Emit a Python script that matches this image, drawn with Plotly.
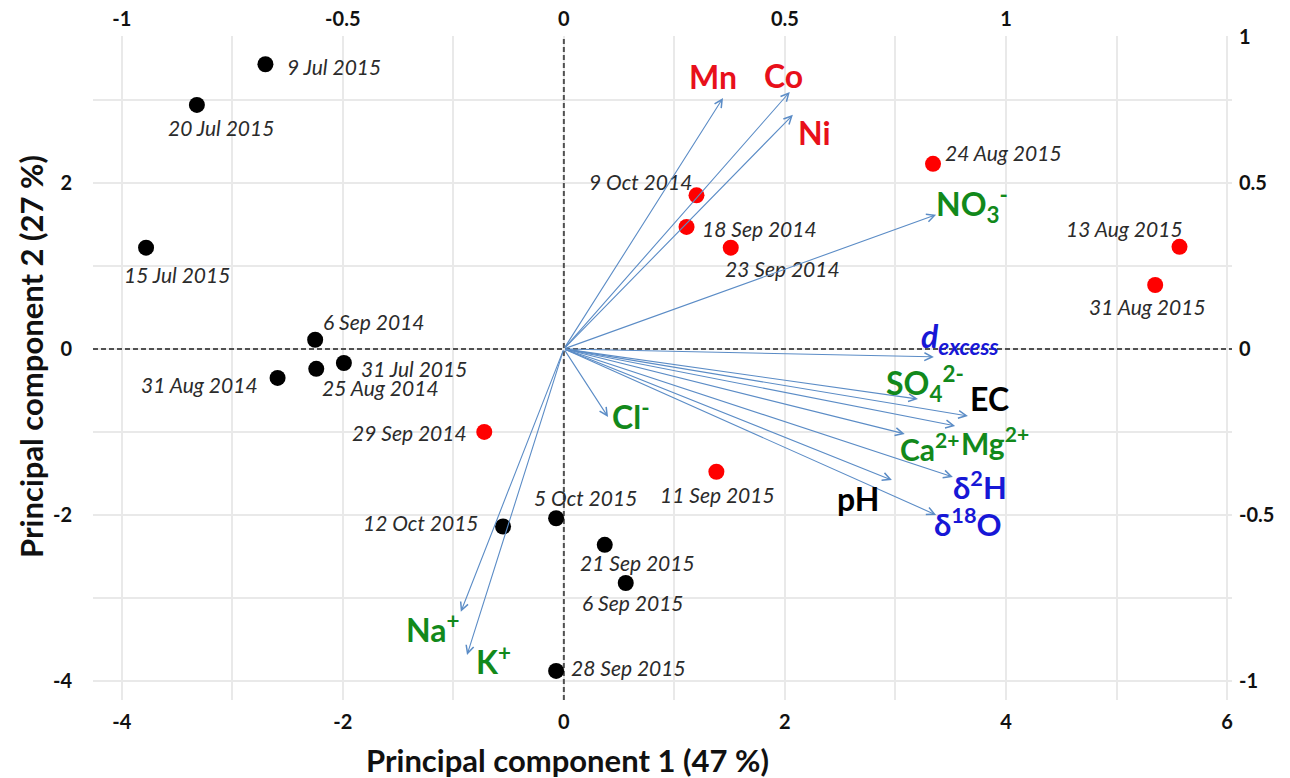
import plotly.graph_objects as go

# ---------------- data ----------------
sample_dates = ["9 Jul 2015", "20 Jul 2015", "15 Jul 2015", "6 Sep 2014", "31 Jul 2015",
                "25 Aug 2014", "31 Aug 2014", "29 Sep 2014", "12 Oct 2015", "5 Oct 2015",
                "21 Sep 2015", "6 Sep 2015", "28 Sep 2015", "24 Aug 2015", "9 Oct 2014",
                "18 Sep 2014", "23 Sep 2014", "13 Aug 2015", "31 Aug 2015", "11 Sep 2015"]
pc1_scores = [-2.70, -3.32, -3.78, -2.25, -1.99, -2.24, -2.59, -0.72, -0.55, -0.07,
              0.37, 0.56, -0.07, 3.34, 1.20, 1.11, 1.51, 5.57, 5.35, 1.38]
pc2_scores = [3.43, 2.94, 1.22, 0.11, -0.17, -0.24, -0.35, -1.00, -2.14, -2.04,
              -2.36, -2.82, -3.88, 2.23, 1.85, 1.47, 1.22, 1.23, 0.77, -1.48]
sample_group = ["black", "black", "black", "black", "black", "black", "black", "red",
                "black", "black", "black", "black", "black", "red", "red", "red", "red",
                "red", "red", "red"]

variables = ["Mn", "Co", "Ni", "NO3", "dexcess", "SO4", "EC", "Mg", "Ca", "d2H",
             "pH", "d18O", "Cl", "Na", "K"]
var_labels = ["Mn", "Co", "Ni", "NO<sub>3</sub><sup>-</sup>", "<i>d</i><sub><i>excess</i></sub>",
              "SO<sub>4</sub><sup>2-</sup>", "EC", "Mg<sup>2+</sup>", "Ca<sup>2+</sup>",
              "δ<sup>2</sup>H", "pH", "δ<sup>18</sup>O", "Cl<sup>-</sup>", "Na<sup>+</sup>",
              "K<sup>+</sup>"]
load_pc1 = [0.360, 0.511, 0.518, 0.842, 0.837, 0.801, 0.914, 0.885, 0.771, 0.880,
            0.742, 0.842, 0.100, -0.233, -0.219]
load_pc2 = [0.756, 0.774, 0.705, 0.404, -0.024, -0.151, -0.202, -0.232, -0.256, -0.386,
            -0.395, -0.500, -0.205, -0.792, -0.922]
var_class = ["metal", "metal", "metal", "ion", "iso", "ion", "phys", "ion", "ion", "iso",
             "phys", "iso", "ion", "ion", "ion"]

bottom_ticks = [-4, -2, 0, 2, 4, 6]
bottom_text = ["-4", "-2", "0", "2", "4", "6"]
left_ticks = [-4, -2, 0, 2]
left_text = ["-4", "-2", "0", "2"]
top_ticks = [-1, -0.5, 0, 0.5, 1]
top_text = ["-1", "-0.5", "0", "0.5", "1"]
right_tickvals = [-1, -0.5, 0, 0.5, 0.94]
right_ticktext = ["-1", "-0.5", "0", "0.5", "1"]

# ---------------- layout config (label placement, px) ----------------
date_anchor = ["left", "center", "center", "left", "left", "left", "right", "right",
               "right", "center", "left", "left", "left", "left", "right", "left",
               "left", "right", "center", "center"]
date_dx = [20, 24, 31, 6, 15, 4, -18, -15, -22, 29, -27, -46, 13, 10, -2, 13, -8, 5, -8, 1]
date_dy = [-2, -23, -27, 18, -5, -19, -7, -1, 4, 21, -18, -20, 3, 11, 14, -2, -21, 18, -21, -23]

var_dx = [-10, -6, 22, 36, 26, 7, 22, 40, 25, 27, -34, 32, 22, -28, 26]
var_dy = [21, 16, -18, 10, 19, 16, 17, -15, -13, -8, -18, -8, 2, -16, -5]
var_size = [32, 32, 32, 32, 32, 32, 32, 30, 30, 31, 32, 31, 32, 32, 32]

FONT = "Lato"
class_color = {"metal": "#e8101a", "ion": "#12891b", "iso": "#1717d6", "phys": "#000000"}
marker_color = {"black": "#000000", "red": "#ff0000"}
ARROW = "#5b8cc6"

xr = [-4.26, 6.045]
yr = [-4.23, 3.77]


def bold(labels):
    return ["<b>%s</b>" % t for t in labels]


fig = go.Figure()

# dashed zero reference lines
zero_line = dict(color="#505050", width=2, dash="5px,3px")
fig.add_trace(go.Scatter(x=[0, 0], y=yr, mode="lines", hoverinfo="skip", showlegend=False,
                         line=zero_line))
fig.add_trace(go.Scatter(x=xr, y=[0, 0], mode="lines", hoverinfo="skip", showlegend=False,
                         line=zero_line))

for grp in ["black", "red"]:
    idx = [i for i, g in enumerate(sample_group) if g == grp]
    fig.add_trace(go.Scatter(
        x=[pc1_scores[i] for i in idx], y=[pc2_scores[i] for i in idx],
        mode="markers", marker=dict(size=16, color=marker_color[grp], line=dict(width=0)),
        hoverinfo="skip", showlegend=False, xaxis="x", yaxis="y"))

# invisible trace binding secondary (loading) axes
fig.add_trace(go.Scatter(x=load_pc1, y=load_pc2, mode="markers",
                         marker=dict(size=1, opacity=0), hoverinfo="skip",
                         showlegend=False, xaxis="x2", yaxis="y2"))

annotations = []
for i, d in enumerate(sample_dates):
    annotations.append(dict(
        x=pc1_scores[i], y=pc2_scores[i], xref="x", yref="y", text=d, showarrow=False,
        xanchor=date_anchor[i], yanchor="middle", xshift=date_dx[i], yshift=date_dy[i],
        font=dict(family=FONT, size=21, color="#2b2b2b", style="italic")))

for i, v in enumerate(variables):
    annotations.append(dict(
        x=load_pc1[i], y=load_pc2[i], xref="x2", yref="y2", ax=0, ay=0,
        axref="x2", ayref="y2", text="", showarrow=True, arrowhead=5, arrowsize=1.4,
        arrowwidth=1.1, arrowcolor=ARROW, standoff=0, startstandoff=0))

for i, v in enumerate(variables):
    annotations.append(dict(
        x=load_pc1[i], y=load_pc2[i], xref="x2", yref="y2", text=var_labels[i],
        showarrow=False, xanchor="center", yanchor="middle", xshift=var_dx[i], yshift=var_dy[i],
        font=dict(family=FONT, size=var_size[i], color=class_color[var_class[i]], weight="bold")))

# axis titles
annotations.append(dict(x=0.0, y=0, xref="x", yref="paper", xshift=4, yshift=-60,
                        text="Principal component 1 (47 %)", showarrow=False,
                        xanchor="center", yanchor="middle",
                        font=dict(family=FONT, size=31, color="#111", weight="bold")))
annotations.append(dict(x=0, y=0.0, xref="paper", yref="y", xshift=-62, yshift=-8,
                        text="Principal component 2 (27 %)", showarrow=False, textangle=-90,
                        xanchor="center", yanchor="middle",
                        font=dict(family=FONT, size=31, color="#111", weight="bold")))

tickfont = dict(family=FONT, size=20, color="#111", weight="bold")
grid = "#e9e9e9"

fig.update_layout(
    width=1290, height=778, autosize=False,
    margin=dict(l=93, r=58, t=36, b=78, autoexpand=False),
    paper_bgcolor="white", plot_bgcolor="white",
    showlegend=False,
    annotations=annotations,
    xaxis=dict(range=xr, tickvals=bottom_ticks, ticktext=bold(bottom_text), showgrid=True,
               gridcolor=grid, gridwidth=1.5,
               minor=dict(dtick=1, tick0=0, showgrid=True, gridcolor=grid, gridwidth=1.5),
               zeroline=False, showline=False, ticks="", tickfont=tickfont,
               ticklabelstandoff=8, automargin=False),
    yaxis=dict(range=yr, tickvals=left_ticks, ticktext=bold(left_text), showgrid=True,
               gridcolor=grid, gridwidth=1.5,
               minor=dict(dtick=1, tick0=0, showgrid=True, gridcolor=grid, gridwidth=1.5),
               zeroline=False, showline=False, ticks="", tickfont=tickfont,
               ticklabelstandoff=20, automargin=False),
    xaxis2=dict(range=[xr[0] / 4, xr[1] / 4], overlaying="x", side="top", anchor="y",
                tickvals=top_ticks, ticktext=bold(top_text), showgrid=False, zeroline=False,
                showline=False, ticks="", tickfont=tickfont, ticklabelstandoff=5,
                automargin=False),
    yaxis2=dict(range=[yr[0] / 4, yr[1] / 4], overlaying="y", side="right", anchor="x",
                tickvals=right_tickvals, ticktext=bold(right_ticktext), showgrid=False,
                zeroline=False, showline=False, ticks="", tickfont=tickfont,
                ticklabelstandoff=6, automargin=False),
)

fig.write_html("out.html")
